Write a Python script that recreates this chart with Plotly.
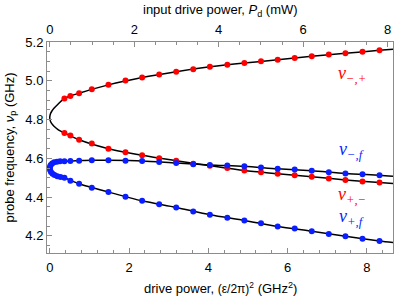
import plotly.graph_objects as go

# ---- data ----
x_pts = [0.37, 0.52, 0.74, 1.06, 1.48, 1.91, 2.33, 2.76, 3.19, 3.62, 4.04,
         4.48, 4.91, 5.33, 5.75, 6.18, 6.61, 7.04, 7.46, 7.89, 8.32]
red_upper = [4.909, 4.921, 4.936, 4.957, 4.979, 5.001, 5.017, 5.032, 5.047, 5.060, 5.072,
             5.083, 5.092, 5.101, 5.108, 5.118, 5.127, 5.135, 5.142, 5.150, 5.157]
red_lower = [4.731, 4.718, 4.696, 4.676, 4.650, 4.631, 4.616, 4.600, 4.588, 4.572, 4.562,
             4.550, 4.537, 4.528, 4.521, 4.513, 4.505, 4.496, 4.489, 4.481, 4.475]
blue_upper = [4.585, 4.587, 4.588, 4.590, 4.590, 4.588, 4.587, 4.581, 4.576, 4.569, 4.566,
              4.563, 4.559, 4.553, 4.546, 4.542, 4.536, 4.529, 4.522, 4.518, 4.513]
blue_lower = [4.500, 4.484, 4.469, 4.448, 4.426, 4.402, 4.381, 4.363, 4.347, 4.326, 4.309,
              4.294, 4.280, 4.265, 4.249, 4.238, 4.224, 4.210, 4.198, 4.186, 4.174]
blue_vertex_x = [0.26, 0.18, 0.11, 0.06, 0.025, 0.005, 0.0, 0.008, 0.03, 0.07, 0.12, 0.19, 0.27]
blue_vertex_y = [4.585, 4.583, 4.580, 4.574, 4.566, 4.558, 4.550, 4.540, 4.530, 4.521, 4.514, 4.508, 4.504]

# theory curves (black)
red_fit_x = [8.66, 8.32, 7.46, 6.61, 5.75, 4.91, 4.04, 3.19, 2.33, 1.48, 0.74, 0.37, 0.2, 0.1,
             0.05, 0.02, 0.005, 0.0, 0.005, 0.02, 0.05, 0.1, 0.2, 0.37, 0.74, 1.48, 2.33, 3.19,
             4.04, 4.91, 5.75, 6.61, 7.46, 8.32, 8.66]
red_fit_y = [5.163, 5.157, 5.142, 5.127, 5.108, 5.092, 5.072, 5.047, 5.017, 4.979, 4.936, 4.909,
             4.878, 4.857, 4.843, 4.831, 4.820, 4.810, 4.800, 4.790, 4.779, 4.767, 4.750, 4.731,
             4.696, 4.650, 4.616, 4.588, 4.562, 4.537, 4.521, 4.505, 4.489, 4.475, 4.470]
blue_fit_x = [8.66, 8.32, 7.46, 6.61, 5.75, 4.91, 4.04, 3.19, 2.33, 1.48, 1.06, 0.74, 0.37, 0.2,
              0.1, 0.04, 0.01, 0.0, 0.01, 0.04, 0.1, 0.2, 0.37, 0.74, 1.48, 2.33, 3.19, 4.04,
              4.91, 5.75, 6.61, 7.46, 8.32, 8.66]
blue_fit_y = [4.508, 4.513, 4.522, 4.536, 4.546, 4.559, 4.566, 4.576, 4.587, 4.590, 4.590, 4.588,
              4.585, 4.581, 4.574, 4.566, 4.559, 4.552, 4.545, 4.536, 4.526, 4.514, 4.500, 4.469,
              4.426, 4.381, 4.347, 4.309, 4.280, 4.249, 4.224, 4.198, 4.174, 4.166]

y_ticks = [4.2, 4.4, 4.6, 4.8, 5.0, 5.2]
x_ticks = [0, 2, 4, 6, 8]
top_ticks = [0, 2, 4, 6, 8]

RED = "rgb(255,0,0)"
BLUE = "rgb(10,30,255)"
FONT = "Liberation Sans, Arial, sans-serif"
GRAY = "#8c8c8c"

fig = go.Figure()
for fx, fy in [(red_fit_x, red_fit_y), (blue_fit_x, blue_fit_y)]:
    fig.add_trace(go.Scatter(x=fx, y=fy, mode="lines",
                             line=dict(color="black", width=1.5, shape="spline", smoothing=0.8),
                             showlegend=False, hoverinfo="skip"))
fig.add_trace(go.Scatter(x=x_pts + x_pts, y=red_upper + red_lower, mode="markers",
                         marker=dict(color=RED, size=6, line=dict(width=0)), showlegend=False))
fig.add_trace(go.Scatter(x=blue_vertex_x + x_pts + x_pts, y=blue_vertex_y + blue_upper + blue_lower,
                         mode="markers", marker=dict(color=BLUE, size=6, line=dict(width=0)),
                         showlegend=False))
# invisible trace to show the top axis
fig.add_trace(go.Scatter(x=[None], y=[None], xaxis="x2", yaxis="y", showlegend=False,
                         hoverinfo="skip"))

xr = [-0.07, 8.66]
ratio = 0.9385  # P_d (mW) per GHz^2, from tick positions
tick_font = dict(family=FONT, size=13, color="black")

fig.update_layout(
    width=415, height=300,
    margin=dict(l=47, r=22, t=42, b=47),
    paper_bgcolor="white", plot_bgcolor="white",
    font=dict(family=FONT, size=13, color="black"),
    hovermode=False,
    xaxis=dict(range=xr, tickvals=x_ticks, ticks="inside", ticklen=5, tickcolor=GRAY,
               showline=True, linecolor=GRAY, linewidth=1, mirror=True, showgrid=False,
               zeroline=False, tickfont=tick_font, ticklabelstandoff=2, automargin=False,
               minor=dict(ticks="inside", ticklen=3, dtick=0.4, tick0=0, tickcolor=GRAY,
                          showgrid=False)),
    xaxis2=dict(range=[xr[0] * ratio, xr[1] * ratio], overlaying="x", side="top",
                tickvals=top_ticks, ticks="inside", ticklen=5, tickcolor=GRAY,
                showline=True, linecolor=GRAY, showgrid=False, zeroline=False,
                tickfont=tick_font, ticklabelstandoff=2, automargin=False,
                minor=dict(ticks="inside", ticklen=3, dtick=0.5, tick0=0, tickcolor=GRAY,
                           showgrid=False)),
    yaxis=dict(range=[4.112, 5.2], tickvals=y_ticks, tickformat=".1f", ticks="inside",
               ticklen=5, tickcolor=GRAY, showline=True, linecolor=GRAY, mirror=True,
               showgrid=False, zeroline=False, tickfont=tick_font, automargin=False,
               minor=dict(ticks="inside", ticklen=3, dtick=0.05, tick0=4.2, tickcolor=GRAY,
                          showgrid=False)),
)

# axis titles as annotations for precise placement
title_font = dict(family=FONT, size=13, color="black")
fig.add_annotation(xref="paper", yref="paper", x=0.5, y=1, yanchor="middle", yshift=32,
                   text="input drive power, <i>P</i><sub>d</sub> (mW)", showarrow=False,
                   font=title_font)
fig.add_annotation(xref="paper", yref="paper", x=0.5, y=0, yanchor="middle", yshift=-35,
                   text="drive power, <span style='font-size:12px'>(ε/2π)<sup>2</sup></span> (GHz<sup>2</sup>)",
                   showarrow=False, font=title_font)
fig.add_annotation(xref="paper", yref="paper", x=0, y=0.5, xanchor="center", xshift=-37,
                   textangle=-90, text="probe frequency, <i>ν</i><sub>p</sub> (GHz)",
                   showarrow=False, font=title_font)

labels = [
    ("ν<sub>−,+</sub>", 7.62, 5.030, RED),
    ("ν<sub>−,<i>f</i></sub>", 7.62, 4.643, BLUE),
    ("ν<sub>+,−</sub>", 7.62, 4.408, RED),
    ("ν<sub>+,<i>f</i></sub>", 7.62, 4.296, BLUE),
]
for txt, lx, ly, col in labels:
    fig.add_annotation(x=lx, y=ly, xref="x", yref="y", text="<i>" + txt + "</i>",
                       showarrow=False,
                       font=dict(family="Liberation Serif, Times New Roman, serif", size=18,
                                 color=col))

fig.write_html("out.html", config={"displayModeBar": False, "staticPlot": True},
               post_script="document.body.style.margin='0';document.body.style.overflow='hidden';")
